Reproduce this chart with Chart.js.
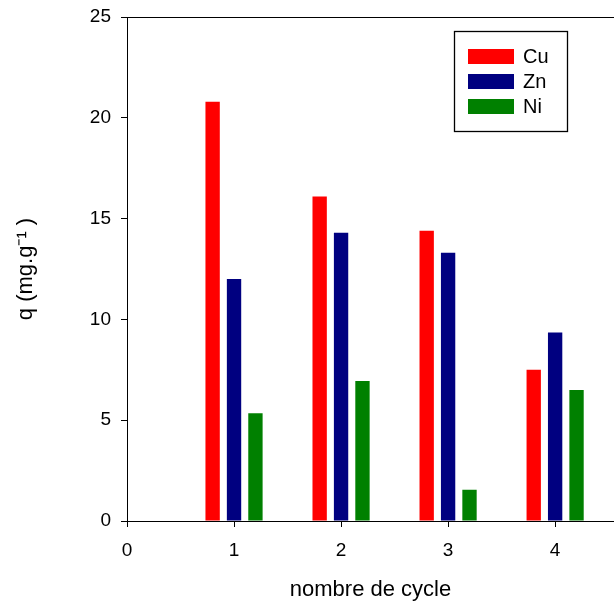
<!DOCTYPE html>
<html>
<head>
<meta charset="utf-8">
<script src="https://cdn.jsdelivr.net/npm/chart.js@4.4.1/dist/chart.umd.min.js"></script>
<style>
  html, body { margin: 0; padding: 0; background: #fff; }
  #wrap { width: 614px; height: 603px; }
</style>
</head>
<body>
<div id="wrap"><canvas id="barChart"></canvas></div>
<script>
// cycles and adsorbed quantity per metal
var cycles = [1, 2, 3, 4];
var cu = [20.8, 16.1, 14.4, 7.5];
var zn = [12.0, 14.3, 13.3, 9.35];
var ni = [5.35, 6.95, 1.55, 6.5];
var xTicks = [0, 1, 2, 3, 4];
var yTicks = [0, 5, 10, 15, 20, 25];

function pts(vals) {
    return cycles.map(function (c, i) { return {x: c, y: vals[i]}; });
}

var FONT = 'Liberation Sans, Arial, sans-serif';

// top frame line + legend box inside plot
var framePlugin = {
    id: 'frame',
    afterDraw: function (chart) {
        var ctx = chart.ctx, a = chart.chartArea;
        ctx.save();
        ctx.strokeStyle = '#000';
        ctx.lineWidth = 1;
        ctx.beginPath();
        ctx.moveTo(a.left, a.top + 0.5);
        ctx.lineTo(a.right, a.top + 0.5);
        ctx.stroke();

        // legend
        var bx = 454.5, by = 31.5, bw = 113, bh = 100;
        ctx.lineWidth = 1.3;
        ctx.strokeRect(bx, by, bw, bh);
        ctx.font = '20px ' + FONT;
        ctx.textBaseline = 'middle';
        ctx.textAlign = 'left';
        chart.data.datasets.forEach(function (ds, i) {
            var y = 49 + i * 25;
            ctx.fillStyle = ds.backgroundColor;
            ctx.fillRect(468, y, 46, 15);
            ctx.fillStyle = '#000';
            ctx.fillText(ds.label, 523, y + 8);
        });
        ctx.restore();
    }
};

var bar = document.getElementById('barChart');
var myBarChart = new Chart(bar, {
    type: 'bar',
    data: {
        datasets: [
            {label: 'Cu', data: pts(cu), backgroundColor: '#ff0000'},
            {label: 'Zn', data: pts(zn), backgroundColor: '#000080'},
            {label: 'Ni', data: pts(ni), backgroundColor: '#008000'}
        ]
    },
    plugins: [framePlugin],
    options: {
        responsive: true,
        maintainAspectRatio: false,
        animation: false,
        categoryPercentage: 0.6,
        barPercentage: 0.67,
        layout: {padding: {top: 17, right: 0, left: 0, bottom: 0}},
        plugins: {
            legend: {display: false},
            tooltip: {enabled: false}
        },
        scales: {
            x: {
                type: 'linear',
                min: 0,
                max: 4.55,
                offset: false,
                afterBuildTicks: function (s) {
                    s.ticks = xTicks.map(function (v) { return {value: v}; });
                },
                afterFit: function (s) { s.height = 82; s.paddingLeft = 0; s.paddingRight = 0; },
                grid: {offset: false, drawOnChartArea: false, tickLength: 6, color: '#000', tickWidth: 1},
                border: {color: '#000', width: 1},
                ticks: {color: '#000', padding: 12, maxRotation: 0, font: {family: FONT, size: 19}},
                title: {
                    display: true,
                    text: 'nombre de cycle',
                    color: '#000',
                    font: {family: FONT, size: 22},
                    padding: {top: 0, bottom: 0}
                }
            },
            y: {
                min: 0,
                max: 25,
                afterBuildTicks: function (s) {
                    s.ticks = yTicks.map(function (v) { return {value: v}; });
                },
                afterFit: function (s) { s.width = 127; s.paddingTop = 0; s.paddingBottom = 0; },
                grid: {drawOnChartArea: false, tickLength: 6, color: '#000', tickWidth: 1},
                border: {color: '#000', width: 1},
                ticks: {color: '#000', padding: 10, font: {family: FONT, size: 19}},
                title: {
                    display: true,
                    text: 'q (mg.g\u207B\u00B9 )',
                    color: '#000',
                    font: {family: FONT, size: 22},
                    padding: {top: 13, bottom: 0}
                }
            }
        }
    }
});
</script>
</body>
</html>
